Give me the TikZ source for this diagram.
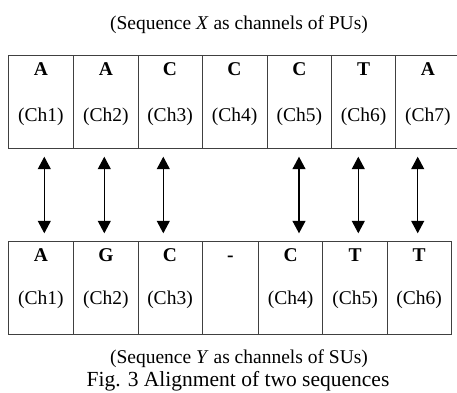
\documentclass[tikz,border=0pt]{standalone}
\usepackage{fontspec}
\setmainfont{Liberation Serif}
\usetikzlibrary{arrows.meta}
\begin{document}
\begin{tikzpicture}[x=1pt,y=-1pt,
  cellbox/.style={draw=black!75, line width=0.9pt, inner sep=0pt, minimum height=#1},
  txt/.style={anchor=base, inner sep=0pt, font=\fontsize{19.5}{23}\selectfont},
  lettr/.style={txt, font=\fontsize{19.5}{23}\selectfont\bfseries},
  figcap/.style={anchor=base, inner sep=0pt, font=\fontsize{21.5}{25}\selectfont},
  link/.style={{Triangle[width=13pt,length=12.5pt]}-{Triangle[width=13pt,length=12.5pt]}, line width=1.3pt}]
\useasboundingbox (0,0) rectangle (457,392);
% title
\node[txt] (tt) at (239,29) {(Sequence \textit{X} as channels of PUs)};
% top cells
\node[cellbox=92.3pt, minimum width=65.7pt] (t1) at (40.85,101.85) {};
\node[cellbox=92.3pt, minimum width=64.3pt] (t2) at (105.85,101.85) {};
\node[cellbox=92.3pt, minimum width=64pt]   (t3) at (170,101.85) {};
\node[cellbox=92.3pt, minimum width=65pt]   (t4) at (234.5,101.85) {};
\node[cellbox=92.3pt, minimum width=64.7pt] (t5) at (299.35,101.85) {};
\node[cellbox=92.3pt, minimum width=64pt]   (t6) at (363.7,101.85) {};
\node[cellbox=92.3pt, minimum width=64.3pt] (t7) at (427.85,101.85) {};
% top texts
\foreach \n/\c/\l/\h in {1/40.85/A/1,2/105.85/A/2,3/170/C/3,4/234.5/C/4,5/299.35/C/5,6/363.7/T/6,7/427.85/A/7}{
  \node[lettr] (tl\n) at (\c,75) {\l};
  \node[txt] (tc\n) at (\c,121.5) {(Ch\h)};
}
% bottom cells
\node[cellbox=93pt, minimum width=65.7pt] (b1) at (40.85,288) {};
\node[cellbox=93pt, minimum width=64.3pt] (b2) at (105.85,288) {};
\node[cellbox=93pt, minimum width=64pt]   (b3) at (170,288) {};
\node[cellbox=93pt, minimum width=56.7pt] (b4) at (230.35,288) {};
\node[cellbox=93pt, minimum width=64pt]   (b5) at (290.7,288) {};
\node[cellbox=93pt, minimum width=64.6pt] (b6) at (355,288) {};
\node[cellbox=93pt, minimum width=63.7pt] (b7) at (419.15,288) {};
% bottom texts
\foreach \n/\c/\l in {1/40.85/A,2/105.85/G,3/170/C,4/230.35/-,5/290.7/C,6/355/T,7/419.15/T}{
  \node[lettr] (bl\n) at (\c,261) {\l};
}
\foreach \n/\c/\h in {1/40.85/1,2/105.85/2,3/170/3,5/290.7/4,6/355/5,7/419.15/6}{
  \node[txt] (bc\n) at (\c,304) {(Ch\h)};
}
% arrows
\foreach \i/\x in {1/44.3,2/104.3,3/163.3,4/299,5/358.3,6/417.7}{
  \coordinate (au\i) at (\x,156.7);
  \coordinate (ad\i) at (\x,233.3);
  \draw[link] (au\i) -- (ad\i);
}
% captions
\node[txt] (ty) at (239,363.3) {(Sequence \textit{Y} as channels of SUs)};
\node[figcap] (fig) at (238,386) {Fig. 3 Alignment of two sequences};
\end{tikzpicture}
\end{document}
